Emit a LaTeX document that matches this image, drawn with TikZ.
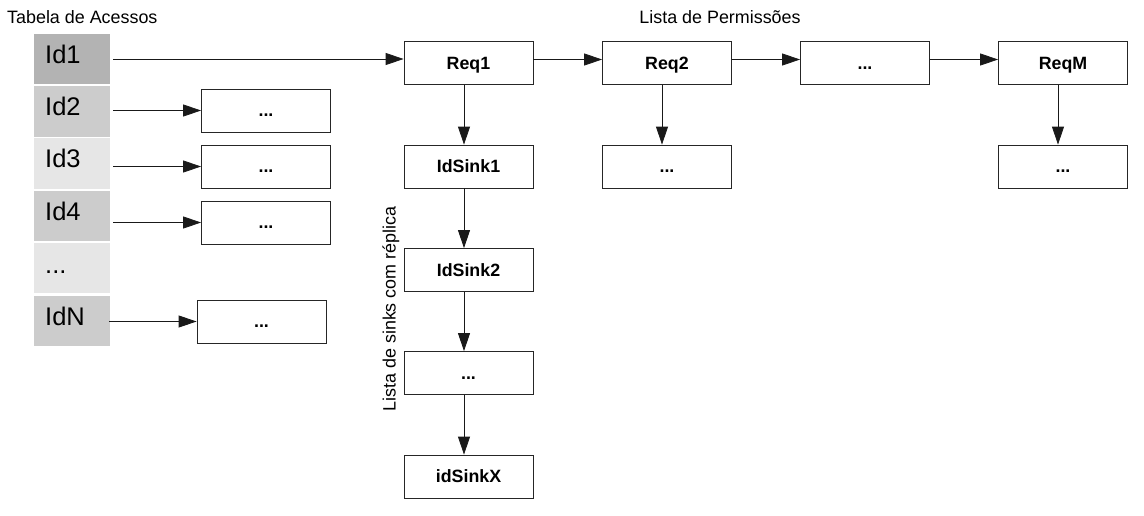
\documentclass[tikz,border=0pt]{standalone}
\usepackage{fontspec}
\setmainfont{Liberation Sans}
\usetikzlibrary{arrows.meta,calc}
\definecolor{cdark}{HTML}{B3B3B3}
\definecolor{cmid}{HTML}{CCCCCC}
\definecolor{clight}{HTML}{E6E6E6}
\tikzset{
  box/.style={draw=black!85, line width=0.8pt, minimum width=129pt, minimum height=43pt, inner sep=0pt,
    font=\bfseries\fontsize{17.8}{18}\selectfont, text height=12pt, text depth=0pt},
  cell/.style={draw=white, line width=1.2pt, minimum width=77pt, minimum height=52pt, inner sep=0pt},
  idtext/.style={anchor=base west, inner sep=0pt, font=\fontsize{25.5}{26}\selectfont},
  title/.style={inner sep=0pt, font=\fontsize{17.9}{18}\selectfont},
  conn/.style={draw=black!90, line width=0.8pt, -{Triangle[length=18pt,width=12pt]}},
}
\begin{document}
\begin{tikzpicture}[x=1pt,y=-1pt]
\useasboundingbox (0,0) rectangle (1144,515);
% titles
\node[title, anchor=base west] (t1) at (7,23) {Tabela de Acessos};
\node[title, anchor=base] (t2) at (720,23) {Lista de Permissões};
\node[title, rotate=90] (t3) at (391,309) {Lista de sinks com réplica};
% table
\node[cell, fill=cdark]  (c1) at (72,59) {};
\node[cell, fill=cmid]   (c2) at (72,111.5) {};
\node[cell, fill=clight] (c3) at (72,163.5) {};
\node[cell, fill=cmid]   (c4) at (72,216.5) {};
\node[cell, fill=clight] (c5) at (72,268) {};
\node[cell, fill=cmid]   (c6) at (72,321) {};
\node[idtext] (l1) at (45,63) {Id1};
\node[idtext] (l2) at (45,115) {Id2};
\node[idtext] (l3) at (45,167) {Id3};
\node[idtext] (l4) at (45,220) {Id4};
\node[idtext] (l5) at (45,273) {...};
\node[idtext] (l6) at (45,325) {IdN};
% left boxes
\node[box] (b2) at (266,110.5) {...};
\node[box] (b3) at (266,166.5) {...};
\node[box] (b4) at (266,222.5) {...};
\node[box] (b6) at (261.5,321.5) {...};
% permission list
\node[box] (req1) at (468.5,63) {Req1};
\node[box] (req2) at (667,63) {Req2};
\node[box] (reqd) at (865,63) {...};
\node[box] (reqm) at (1063,63) {ReqM};
\node[box] (s1) at (468.5,166.5) {IdSink1};
\node[box] (s2) at (468.5,270) {IdSink2};
\node[box] (sd) at (468.5,373) {...};
\node[box] (sx) at (468.5,476.5) {idSinkX};
\node[box] (r2c) at (667,166.5) {...};
\node[box] (rmc) at (1063,166.5) {...};
% connectors
\draw[conn, shorten <=2pt] (c1.east) -- (c1.east -| req1.west);
\draw[conn, shorten <=2pt] (c2.east |- b2.west) -- (b2.west);
\draw[conn, shorten <=2pt] (c3.east |- b3.west) -- (b3.west);
\draw[conn, shorten <=2pt] (c4.east |- b4.west) -- (b4.west);
\draw[conn, shorten <=-2pt] (c6.east |- b6.west) -- (b6.west);
\draw[conn] ($(req1.east)+(0,-3.5)$) -- ($(req2.west)+(0,-3.5)$);
\draw[conn] ($(req2.east)+(0,-3.5)$) -- ($(reqd.west)+(0,-3.5)$);
\draw[conn] ($(reqd.east)+(0,-3.5)$) -- ($(reqm.west)+(0,-3.5)$);
\draw[conn] ($(req1.south)+(-4.5,0)$) -- ($(s1.north)+(-4.5,0)$);
\draw[conn] ($(s1.south)+(-4.5,0)$) -- ($(s2.north)+(-4.5,0)$);
\draw[conn] ($(s2.south)+(-4.5,0)$) -- ($(sd.north)+(-4.5,0)$);
\draw[conn] ($(sd.south)+(-4.5,0)$) -- ($(sx.north)+(-4.5,0)$);
\draw[conn] ($(req2.south)+(-5,0)$) -- ($(r2c.north)+(-5,0)$);
\draw[conn] ($(reqm.south)+(-5,0)$) -- ($(rmc.north)+(-5,0)$);
\end{tikzpicture}
\end{document}
